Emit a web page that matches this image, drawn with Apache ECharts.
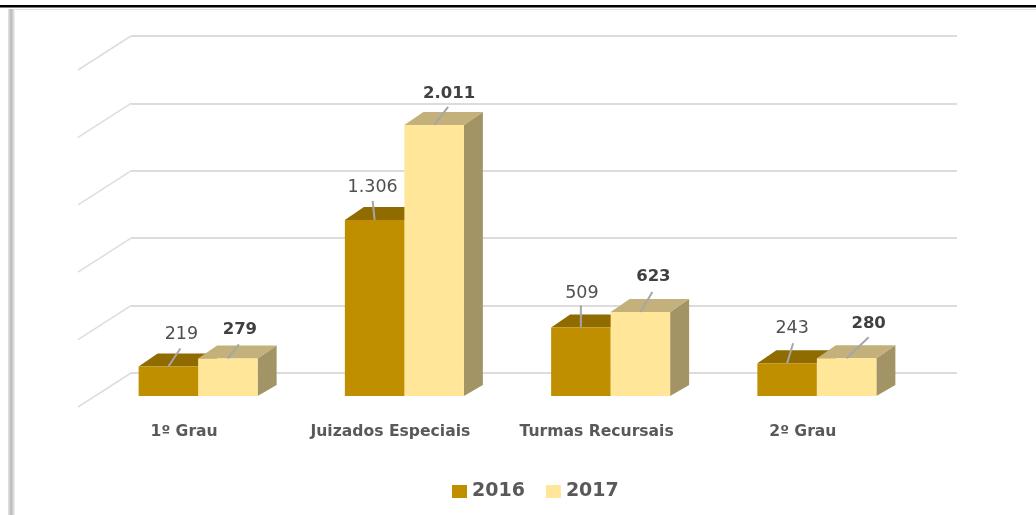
<!DOCTYPE html>
<html><head><meta charset="utf-8">
<style>html,body{margin:0;padding:0;background:#fff}#c{width:1036px;height:515px}</style>
<script src="https://cdn.jsdelivr.net/npm/echarts@6/dist/echarts.min.js"></script>
</head><body><div id="c"></div>
<script>
const categories = ['1º Grau', 'Juizados Especiais', 'Turmas Recursais', '2º Grau'];
const values2016 = [219, 1306, 509, 243];
const values2017 = [279, 2011, 623, 280];
const gridTicks = [0, 500, 1000, 1500, 2000, 2500];

// layout only: leader end and label centre relative to bar top centre
const leader2016 = [[12, -18, 13, -32], [-2, -19, -2, -32], [0, -22, 1, -34], [6, -20, 5, -35]];
const leader2017 = [[11, -14, 12, -29], [14, -18, 15, -31], [12, -20, 13, -35], [22, -21, 22, -35]];

const DEPTH_X = 19, DEPTH_TOP = 13, DEPTH_BOTTOM = 11;
const fmt = v => String(v).replace(/\B(?=(\d{3})+$)/g, '.');

function barRenderer(sign, cols, leaders, bold) {
  return function (params, api) {
    const i = api.value(0), v = api.value(1);
    const base = api.coord([i, 0]), top = api.coord([i, v]);
    const w = api.size([1, 0])[0] * 0.2885;
    const x0 = sign < 0 ? base[0] - w : base[0];
    const x1 = x0 + w, yT = top[1], yB = base[1];
    const cx = (x0 + x1) / 2;
    const L = leaders[i];
    const poly = (pts, fill) => ({ type: 'polygon', shape: { points: pts }, style: { fill: fill } });
    return {
      type: 'group',
      children: [
        poly([[x1, yB], [x1 + DEPTH_X, yB - DEPTH_BOTTOM], [x1 + DEPTH_X, yT - DEPTH_TOP], [x1, yT]], cols.side),
        poly([[x0, yT], [x0 + DEPTH_X, yT - DEPTH_TOP], [x1 + DEPTH_X, yT - DEPTH_TOP], [x1, yT]], cols.top),
        { type: 'rect', shape: { x: x0, y: yT, width: w, height: yB - yT }, style: { fill: cols.front } },
        { type: 'line', shape: { x1: cx, y1: yT, x2: cx + L[0], y2: yT + L[1] }, style: { stroke: '#A6A6A6', lineWidth: 2 } },
        { type: 'text', x: cx + L[2], y: yT + L[3], style: {
            text: fmt(v), align: 'center', verticalAlign: 'middle', fill: bold ? '#404040' : '#505050',
            font: (bold ? 'bold 16.5px' : '17.5px') + ' "DejaVu Sans"' } }
      ]
    };
  };
}

const col2016 = { front: '#BF8F00', top: '#8F6B00', side: '#8F6B00' };
const col2017 = { front: '#FFE699', top: '#C3B07A', side: '#A39465' };

const chart = echarts.init(document.getElementById('c'), null, { renderer: 'canvas' });
chart.setOption({
  animation: false,
  backgroundColor: '#fff',
  textStyle: { fontFamily: 'DejaVu Sans' },
  graphic: [
    { type: 'rect', shape: { x: 0, y: 5, width: 1036, height: 2.5 }, style: { fill: '#000' } },
    { type: 'rect', shape: { x: 10, y: 9, width: 1026, height: 1 }, style: { fill: '#E2E2E2' } },
    { type: 'rect', shape: { x: 8, y: 9, width: 7, height: 506 }, style: {
        fill: new echarts.graphic.LinearGradient(0, 0, 1, 0, [
          { offset: 0, color: '#E6E6E6' }, { offset: 0.45, color: '#B8B8B8' }, { offset: 1, color: '#F4F4F4' }]) } }
  ],
  legend: {
    left: 447, top: 477, icon: 'rect', itemWidth: 15, itemHeight: 13, itemGap: 21,
    textStyle: { fontFamily: 'DejaVu Sans', fontWeight: 'bold', fontSize: 19, color: '#595959' },
    data: ['2016', '2017']
  },
  grid: [
    { left: 131, right: 79, top: 36, height: 337 },
    { left: 95, width: 825, top: 59, height: 337 }
  ],
  xAxis: [
    { gridIndex: 0, type: 'value', min: 0, max: 1, show: false },
    { gridIndex: 1, type: 'category', data: categories, axisLine: { show: false }, axisTick: { show: false },
      axisLabel: { margin: 28, padding: [0, 28, 0, 0], fontFamily: 'DejaVu Sans', fontSize: 15.6, fontWeight: 'bold', color: '#595959', interval: 0 } }
  ],
  yAxis: [
    { gridIndex: 0, type: 'value', min: 0, max: 2500, interval: 500,
      axisLine: { show: false }, axisTick: { show: false }, axisLabel: { show: false },
      splitLine: { show: true, lineStyle: { color: '#DCDCDC', width: 2 } } },
    { gridIndex: 1, type: 'value', min: 0, max: 2500, interval: 500, show: false, splitLine: { show: false } }
  ],
  series: [
    { type: 'custom', name: 'floorlines', xAxisIndex: 0, yAxisIndex: 0, silent: true,
      data: gridTicks.map(t => [0, t]),
      renderItem(params, api) {
        const p = api.coord([0, api.value(1)]);
        return { type: 'line', shape: { x1: p[0], y1: p[1], x2: p[0] - 53, y2: p[1] + 34 },
                 style: { stroke: '#DEDEDE', lineWidth: 1.6 } };
      } },
    { type: 'custom', name: '2016', xAxisIndex: 1, yAxisIndex: 1, itemStyle: { color: col2016.front },
      encode: { x: 0, y: 1 }, data: values2016.map((v, i) => [i, v]),
      renderItem: barRenderer(-1, col2016, leader2016, false) },
    { type: 'custom', name: '2017', xAxisIndex: 1, yAxisIndex: 1, itemStyle: { color: col2017.front },
      encode: { x: 0, y: 1 }, data: values2017.map((v, i) => [i, v]),
      renderItem: barRenderer(1, col2017, leader2017, true) }
  ]
});
</script></body></html>
